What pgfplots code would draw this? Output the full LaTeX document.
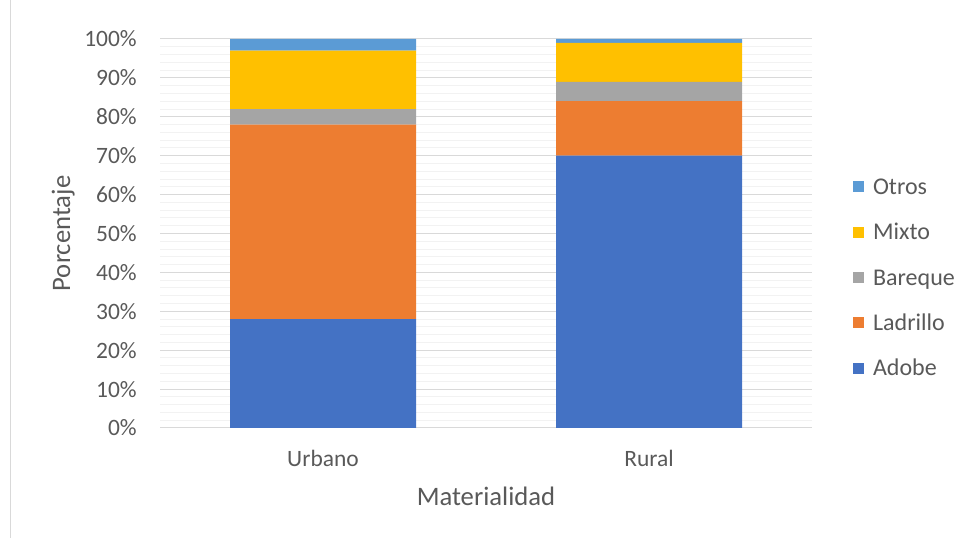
\documentclass[border=0pt]{standalone}
\usepackage{pgfplots}
\pgfplotsset{compat=1.18}
\usepackage{fontspec}
\setmainfont{Carlito}
\definecolor{adobe}{HTML}{4472C4}
\definecolor{ladrillo}{HTML}{ED7D31}
\definecolor{bareque}{HTML}{A5A5A5}
\definecolor{mixto}{HTML}{FFC000}
\definecolor{otros}{HTML}{5B9BD5}
\definecolor{txt}{HTML}{595959}
\definecolor{majgrid}{HTML}{D9D9D9}
\definecolor{mingrid}{HTML}{F2F2F2}
\begin{document}
\begin{tikzpicture}
\useasboundingbox (0,0) rectangle (728.25pt,403.5pt);
\draw[majgrid, line width=0.75pt] (7.5pt,0) -- (7.5pt,403.5pt);
\begin{axis}[
  at={(120pt,82.5pt)}, anchor=south west,
  width=489pt, height=291.75pt, scale only axis,
  ybar stacked, bar width=139.5pt,
  xmin=-0.5, xmax=1.5, ymin=0, ymax=100,
  xtick={0,1}, xticklabels={Urbano,Rural},
  ytick={0,10,...,100},
  yticklabel={\pgfmathprintnumber{\tick}\%},
  /pgf/number format/assume math mode=true,
  minor y tick num=4,
  ymajorgrids, yminorgrids,
  major grid style={majgrid, line width=0.75pt},
  minor grid style={mingrid, line width=0.75pt},
  major tick length=0pt, minor tick length=0pt,
  axis x line*=bottom, axis y line*=left,
  y axis line style={draw=none},
  x axis line style={draw=majgrid, line width=0.75pt},
  tick label style={font=\fontsize{17.6}{20}\selectfont, color=txt},
  yticklabel style={anchor=east, inner sep=0pt, xshift=-17.25pt},
  xticklabel style={anchor=base, inner sep=0pt, yshift=-29.25pt},
  xlabel={Materialidad}, ylabel={Porcentaje},
  label style={font=\fontsize{20}{24}\selectfont, color=txt, inner sep=0pt},
  xlabel style={at={(axis description cs:0.5,-0.2005)}, anchor=base},
  ylabel style={at={(axis description cs:-0.138,0.5)}, anchor=base},
  reverse legend,
  legend cell align=left,
  legend image code/.code={\fill[#1] (0pt,-4.1pt) rectangle (8.25pt,4.1pt);},
  legend style={draw=none, fill=none, inner sep=0pt, outer sep=0pt,
    at={(axis description cs:1.063,0.387)}, anchor=west,
    row sep=22.4pt, column sep=6.75pt,
    font=\fontsize{18}{20}\selectfont, text=txt,
    nodes={inner sep=0pt, text height=11.6pt, text depth=0pt}},
]
\addplot[fill=adobe, draw=none] coordinates {(0,28) (1,70)};
\addlegendentry{Adobe}
\addplot[fill=ladrillo, draw=none] coordinates {(0,50) (1,14)};
\addlegendentry{Ladrillo}
\addplot[fill=bareque, draw=none] coordinates {(0,4) (1,5)};
\addlegendentry{Bareque}
\addplot[fill=mixto, draw=none] coordinates {(0,15) (1,10)};
\addlegendentry{Mixto}
\addplot[fill=otros, draw=none] coordinates {(0,3) (1,1)};
\addlegendentry{Otros}
\end{axis}
\end{tikzpicture}
\end{document}
